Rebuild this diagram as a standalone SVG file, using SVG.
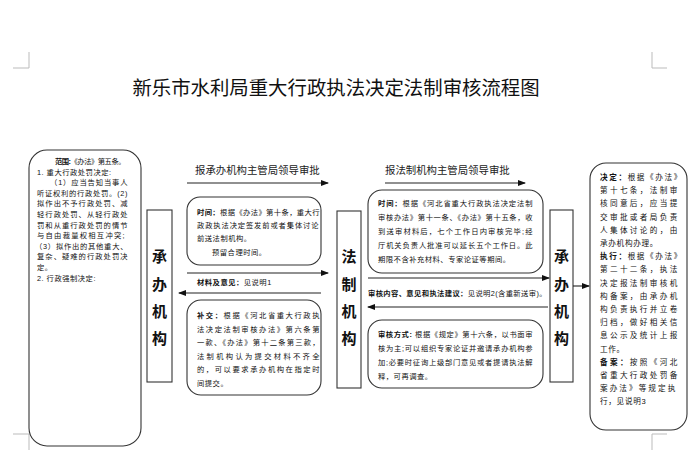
<svg xmlns="http://www.w3.org/2000/svg" width="700" height="471" viewBox="0 0 700 471">
<defs>
<marker id="ah" markerWidth="8" markerHeight="6" refX="7" refY="3" orient="auto" markerUnits="userSpaceOnUse">
<path d="M0,0 L8,3 L0,6 z" fill="#111"/>
</marker>
<style>
text{font-family:"Liberation Sans","Noto Sans CJK SC",sans-serif;fill:#111}
.t{font-size:7.3px;letter-spacing:0.5px}
.tl{font-size:7.3px;letter-spacing:0.5px}
.tr{font-size:7.6px;letter-spacing:0.7px}
.b{font-weight:bold}
.h{font-size:10.4px;fill:#222}
.big{font-size:15px;font-weight:bold;text-anchor:middle}
.box{fill:#fff;stroke:#333;stroke-width:1.1}
.mark{fill:none;stroke:#bbb;stroke-width:1}
.ln{stroke:#222;stroke-width:1.1;fill:none}
</style>
</defs>
<rect width="700" height="471" fill="#fff"/>
<g id="marks">
<path class="mark" d="M13,68 H29 V52"/>
<path class="mark" d="M667,68 H652 V52"/>
<path class="mark" d="M13,434 H29 V450"/>
<path class="mark" d="M667,434 H652 V450"/>
</g>
<text id="title" x="336" y="95" text-anchor="middle" style="font-size:19.4px">新乐市水利局重大行政执法决定法制审核流程图</text>

<g id="scope">
<rect class="box" x="29" y="150" width="112" height="296" rx="18"/>
<text class="tl" x="55" y="164" textLength="71" lengthAdjust="spacing"><tspan class="b">范围:</tspan>《办法》第五条。</text>
<text class="tl" x="37" y="174.6">1. 重大行政处罚决定:</text>
<text class="tl" x="50" y="185.2" textLength="78" lengthAdjust="spacing">（1）应当告知当事人</text>
<text class="tl" x="37" y="195.8" textLength="91" lengthAdjust="spacing">听证权利的行政处罚。(2)</text>
<text class="tl" x="37" y="206.4" textLength="91" lengthAdjust="spacing">拟作出不予行政处罚、减</text>
<text class="tl" x="37" y="217" textLength="91" lengthAdjust="spacing">轻行政处罚、从轻行政处</text>
<text class="tl" x="37" y="227.6" textLength="91" lengthAdjust="spacing">罚和从重行政处罚的情节</text>
<text class="tl" x="37" y="238.2" textLength="88" lengthAdjust="spacing">与自由裁量权相互冲突;</text>
<text class="tl" x="35" y="248.8" textLength="93" lengthAdjust="spacing">（3）拟作出的其他重大、</text>
<text class="tl" x="37" y="259.4" textLength="91" lengthAdjust="spacing">复杂、疑难的行政处罚决</text>
<text class="tl" x="37" y="270">定。</text>
<text class="tl" x="37" y="280.6">2. 行政强制决定:</text>
</g>

<g id="dept1">
<rect class="box" x="147" y="210" width="25" height="172"/>
<text class="big" x="159.5" y="262">承</text>
<text class="big" x="159.5" y="290">办</text>
<text class="big" x="159.5" y="317">机</text>
<text class="big" x="159.5" y="344">构</text>
</g>

<g id="legal">
<rect class="box" x="337" y="211" width="24" height="177"/>
<text class="big" x="349" y="262">法</text>
<text class="big" x="349" y="290">制</text>
<text class="big" x="349" y="317">机</text>
<text class="big" x="349" y="344">构</text>
</g>

<g id="dept2">
<rect class="box" x="550" y="210" width="23" height="172"/>
<text class="big" x="561.5" y="262">承</text>
<text class="big" x="561.5" y="290">办</text>
<text class="big" x="561.5" y="317">机</text>
<text class="big" x="561.5" y="344">构</text>
</g>

<g id="time1">
<rect class="box" x="187" y="197" width="134" height="68" rx="13"/>
<text class="t" x="197" y="215" textLength="123" lengthAdjust="spacing"><tspan class="b">时间：</tspan>根据《办法》第十条，重大行</text>
<text class="t" x="197" y="228" textLength="122" lengthAdjust="spacing">政政执法决定签发前或者集体讨论</text>
<text class="t" x="197" y="241">前送法制机构。</text>
<text class="t" x="212" y="255">预留合理时间。</text>
</g>

<g id="supp">
<rect class="box" x="187" y="300" width="134" height="95" rx="14"/>
<text class="t" x="197" y="318" textLength="123" lengthAdjust="spacing"><tspan class="b">补交：</tspan>根据《河北省重大行政执</text>
<text class="t" x="197" y="331.5" textLength="123" lengthAdjust="spacing">法决定法制审核办法》第六条第</text>
<text class="t" x="197" y="345" textLength="123" lengthAdjust="spacing">一款、《办法》第十二条第三款，</text>
<text class="t" x="197" y="358.5" textLength="123" lengthAdjust="spacing">法制机构认为提交材料不齐全</text>
<text class="t" x="197" y="372" textLength="123" lengthAdjust="spacing">的，可以要求承办机构在指定时</text>
<text class="t" x="197" y="385.5">间提交。</text>
</g>

<g id="time2">
<rect class="box" x="368" y="190" width="175" height="83" rx="14"/>
<text class="t" x="378" y="206" textLength="155" lengthAdjust="spacing"><tspan class="b">时间：</tspan>根据《河北省重大行政执法决定法制</text>
<text class="t" x="378" y="220" textLength="155" lengthAdjust="spacing">审核办法》第十一条、《办法》第十五条，收</text>
<text class="t" x="378" y="234" textLength="155" lengthAdjust="spacing">到送审材料后，七个工作日内审核完毕;经</text>
<text class="t" x="378" y="248" textLength="155" lengthAdjust="spacing">厅机关负责人批准可以延长五个工作日。此</text>
<text class="t" x="378" y="262">期限不含补充材料、专家论证等期间。</text>
</g>

<g id="review">
<rect class="box" x="368" y="320" width="175" height="68" rx="14"/>
<text class="t" x="378" y="337" textLength="155" lengthAdjust="spacing"><tspan class="b">审核方式:</tspan> 根据《规定》第十六条，以书面审</text>
<text class="t" x="378" y="351" textLength="155" lengthAdjust="spacing">核为主;可以组织专家论证并邀请承办机构参</text>
<text class="t" x="378" y="365" textLength="155" lengthAdjust="spacing">加;必要时征询上级部门意见或者提请执法解</text>
<text class="t" x="378" y="379">释，可再调查。</text>
</g>

<g id="decision">
<rect class="box" x="590" y="163" width="97" height="267" rx="16"/>
<text class="tr" x="600" y="180" textLength="82" lengthAdjust="spacing"><tspan class="b">决定：</tspan>根据《办法》</text>
<text class="tr" x="600" y="193.2" textLength="78" lengthAdjust="spacing">第十七条，法制审</text>
<text class="tr" x="600" y="206.4" textLength="78" lengthAdjust="spacing">核同意后，应当提</text>
<text class="tr" x="600" y="219.6" textLength="78" lengthAdjust="spacing">交审批或者局负责</text>
<text class="tr" x="600" y="232.8" textLength="78" lengthAdjust="spacing">人集体讨论的，由</text>
<text class="tr" x="600" y="246">承办机构办理。</text>
<text class="tr" x="600" y="259.2" textLength="82" lengthAdjust="spacing"><tspan class="b">执行：</tspan>根据《办法》</text>
<text class="tr" x="600" y="272.4" textLength="78" lengthAdjust="spacing">第二十二条，执法</text>
<text class="tr" x="600" y="285.6" textLength="78" lengthAdjust="spacing">决定报法制审核机</text>
<text class="tr" x="600" y="298.8" textLength="78" lengthAdjust="spacing">构备案，由承办机</text>
<text class="tr" x="600" y="312" textLength="78" lengthAdjust="spacing">构负责执行并立卷</text>
<text class="tr" x="600" y="325.2" textLength="78" lengthAdjust="spacing">归档，做好相关信</text>
<text class="tr" x="600" y="338.4" textLength="78" lengthAdjust="spacing">息公示及统计上报</text>
<text class="tr" x="600" y="351.6">工作。</text>
<text class="tr" x="600" y="364.8" textLength="78" lengthAdjust="spacing"><tspan class="b">备案：</tspan>按照《河北</text>
<text class="tr" x="600" y="378" textLength="78" lengthAdjust="spacing">省重大行政处罚备</text>
<text class="tr" x="600" y="391.2" textLength="76" lengthAdjust="spacing">案办法》等规定执</text>
<text class="tr" x="600" y="404.4">行，见说明3</text>
</g>

<g id="connectors">
<text class="h" x="195" y="174">报承办机构主管局领导审批</text>
<line class="ln" x1="187" y1="183" x2="328" y2="183" marker-end="url(#ah)"/>
<line class="ln" x1="187" y1="273" x2="328" y2="273" marker-end="url(#ah)"/>
<text class="t" x="197" y="285"><tspan class="b">材料及意见：</tspan>见说明1</text>
<line class="ln" x1="321" y1="293" x2="179" y2="293" marker-end="url(#ah)"/>
<text class="h" x="385" y="174">报法制机构主管局领导审批</text>
<line class="ln" x1="385" y1="183" x2="525" y2="183" marker-end="url(#ah)"/>
<line class="ln" x1="368" y1="278" x2="549" y2="278" marker-end="url(#ah)"/>
<text class="t" x="368" y="296" textLength="179" lengthAdjust="spacing"><tspan class="b">审核内容、意见和执法建议：</tspan>见说明2(含重新送审)。</text>
<line class="ln" x1="548" y1="307" x2="368" y2="307" marker-end="url(#ah)"/>
<line class="ln" x1="573" y1="286" x2="589" y2="286" marker-end="url(#ah)"/>
</g>
</svg>
